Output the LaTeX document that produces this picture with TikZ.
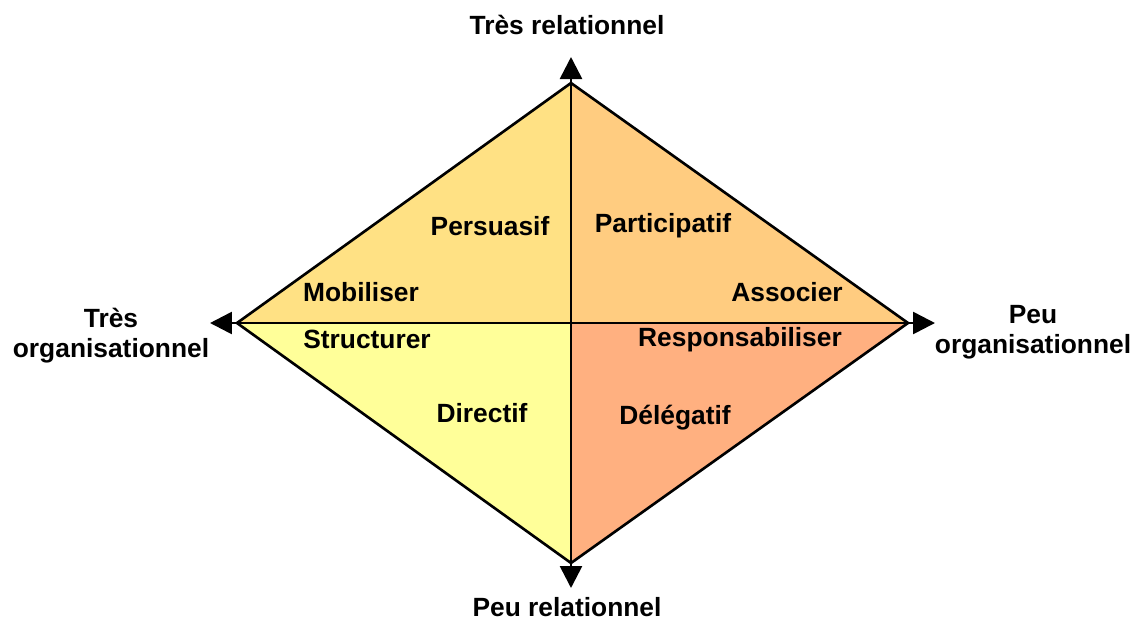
\documentclass[tikz,border=0pt]{standalone}
\usepackage{fontspec}
\setmainfont{Liberation Sans}
\usepackage{tikz}
\usetikzlibrary{arrows.meta,positioning}
\definecolor{qtl}{RGB}{255,225,132}
\definecolor{qtr}{RGB}{255,204,128}
\definecolor{qbl}{RGB}{255,255,153}
\definecolor{qbr}{RGB}{255,176,128}
\begin{document}
\begin{tikzpicture}[x=0.02cm,y=-0.02cm,
  lbl/.style={font=\fontsize{15}{17}\selectfont\bfseries, inner sep=0pt, align=center},
  axis/.style={line width=1.5pt, -{Triangle[length=0.44cm,width=0.44cm]}},
  edge/.style={line width=1.5pt, line join=miter}]
\useasboundingbox (0,0) rectangle (1136,620);
\coordinate (c) at (571,323);
\coordinate (t) at (571,83);
\coordinate (b) at (571,563);
\coordinate (l) at (237,323);
\coordinate (r) at (908,323);
\coordinate (te) at (571,57);
\coordinate (be) at (571,588);
\coordinate (le) at (210,323);
\coordinate (re) at (935,323);
% quadrants
\fill [qtl] (l) -- (t) -- (c) -- cycle;
\fill [qtr] (t) -- (r) -- (c) -- cycle;
\fill [qbl] (l) -- (b) -- (c) -- cycle;
\fill [qbr] (b) -- (r) -- (c) -- cycle;
\draw [edge] (l) -- (t) -- (r) -- (b) -- cycle;
% axes
\draw [axis] (c) -- (te);
\draw [axis] (c) -- (be);
\draw [axis] (c) -- (le);
\draw [axis] (c) -- (re);
% axis labels
\node [lbl] (trel) at (567,25) {Très relationnel};
\node [lbl] (prel) at (567,607) {Peu relationnel};
\node [lbl] (torg) at (111,336) {Très\\organisationnel};
\node [lbl] (porg) at (1033,332) {Peu\\organisationnel};
% styles
\node [lbl] (pers) at (490,226) {Persuasif};
\node [lbl] (part) at (663,226) {Participatif};
\node [lbl] (mobi) at (361,292) {Mobiliser};
\node [lbl] (asso) at (787,292) {Associer};
\node [lbl] (stru) at (367,339) {Structurer};
\node [lbl] (resp) at (740,340) {Responsabiliser};
\node [lbl] (dire) at (482,413) {Directif};
\node [lbl] (dele) at (675,418) {Délégatif};
\end{tikzpicture}
\end{document}
